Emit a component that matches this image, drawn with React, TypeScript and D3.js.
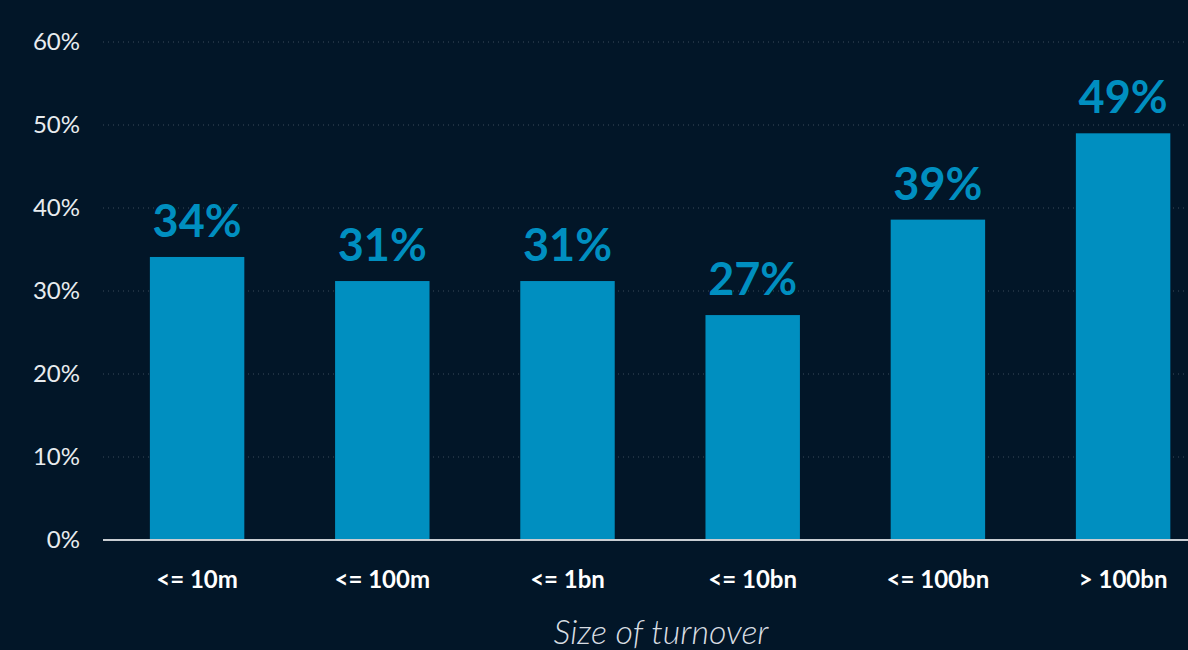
import React from "react";
import * as d3 from "d3";

const categories = ["<= 10m", "<= 100m", "<= 1bn", "<= 10bn", "<= 100bn", "> 100bn"];
const values = [34.1, 31.2, 31.2, 27.1, 38.6, 49.0];
const labels = ["34%", "31%", "31%", "27%", "39%", "49%"];
const yTicks = [0, 10, 20, 30, 40, 50, 60];
const axisTitle = "Size of turnover";

const W = 1188;
const H = 650;
const BG = "#021628";
const BAR = "#008fc0";
const FONT = "'Source Sans Pro', Lato, 'Open Sans', sans-serif";

export default function App() {
  const x = d3.scaleBand<string>().domain(categories).range([104.5, 1215.7]).paddingInner(0.49).paddingOuter(0.245);
  const y = d3.scaleLinear().domain([0, 60]).range([540, 42]);
  return (
    <svg width={W} height={H} style={{ position: "absolute", left: 0, top: 0, background: BG }}>
      <rect x={0} y={0} width={W} height={H} fill={BG} />
      {yTicks.map((t) => (
        <g key={t}>
          {t > 0 && (
            <line x1={103} x2={W} y1={y(t)} y2={y(t)} stroke="#3a4a5a" strokeWidth={1} strokeDasharray="1,4" />
          )}
          <text x={80} y={y(t) + 8} textAnchor="end" fill="#e8ecef" fontFamily={FONT} fontSize={24}>
            {t}%
          </text>
        </g>
      ))}
      {categories.map((c, i) => (
        <g key={c}>
          <rect x={x(c)} y={y(values[i])} width={x.bandwidth()} height={y(0) - y(values[i])} fill={BAR} />
          <text
            x={(x(c) as number) + x.bandwidth() / 2}
            y={y(values[i]) - 20}
            textAnchor="middle"
            fill={BAR}
            fontFamily={FONT}
            fontWeight="bold"
            fontSize={45}
          >
            {labels[i]}
          </text>
          <text
            x={(x(c) as number) + x.bandwidth() / 2}
            y={588}
            textAnchor="middle"
            fill="#ffffff"
            fontFamily={FONT}
            fontWeight="bold"
            fontSize={24}
          >
            {c}
          </text>
        </g>
      ))}
      <line x1={103} x2={W} y1={y(0)} y2={y(0)} stroke="#c8cdd2" strokeWidth={2} />
      <text x={661} y={644} textAnchor="middle" fill="#d8dde2" fontFamily={FONT} fontStyle="italic" fontWeight={300} fontSize={34}>
        {axisTitle}
      </text>
    </svg>
  );
}
